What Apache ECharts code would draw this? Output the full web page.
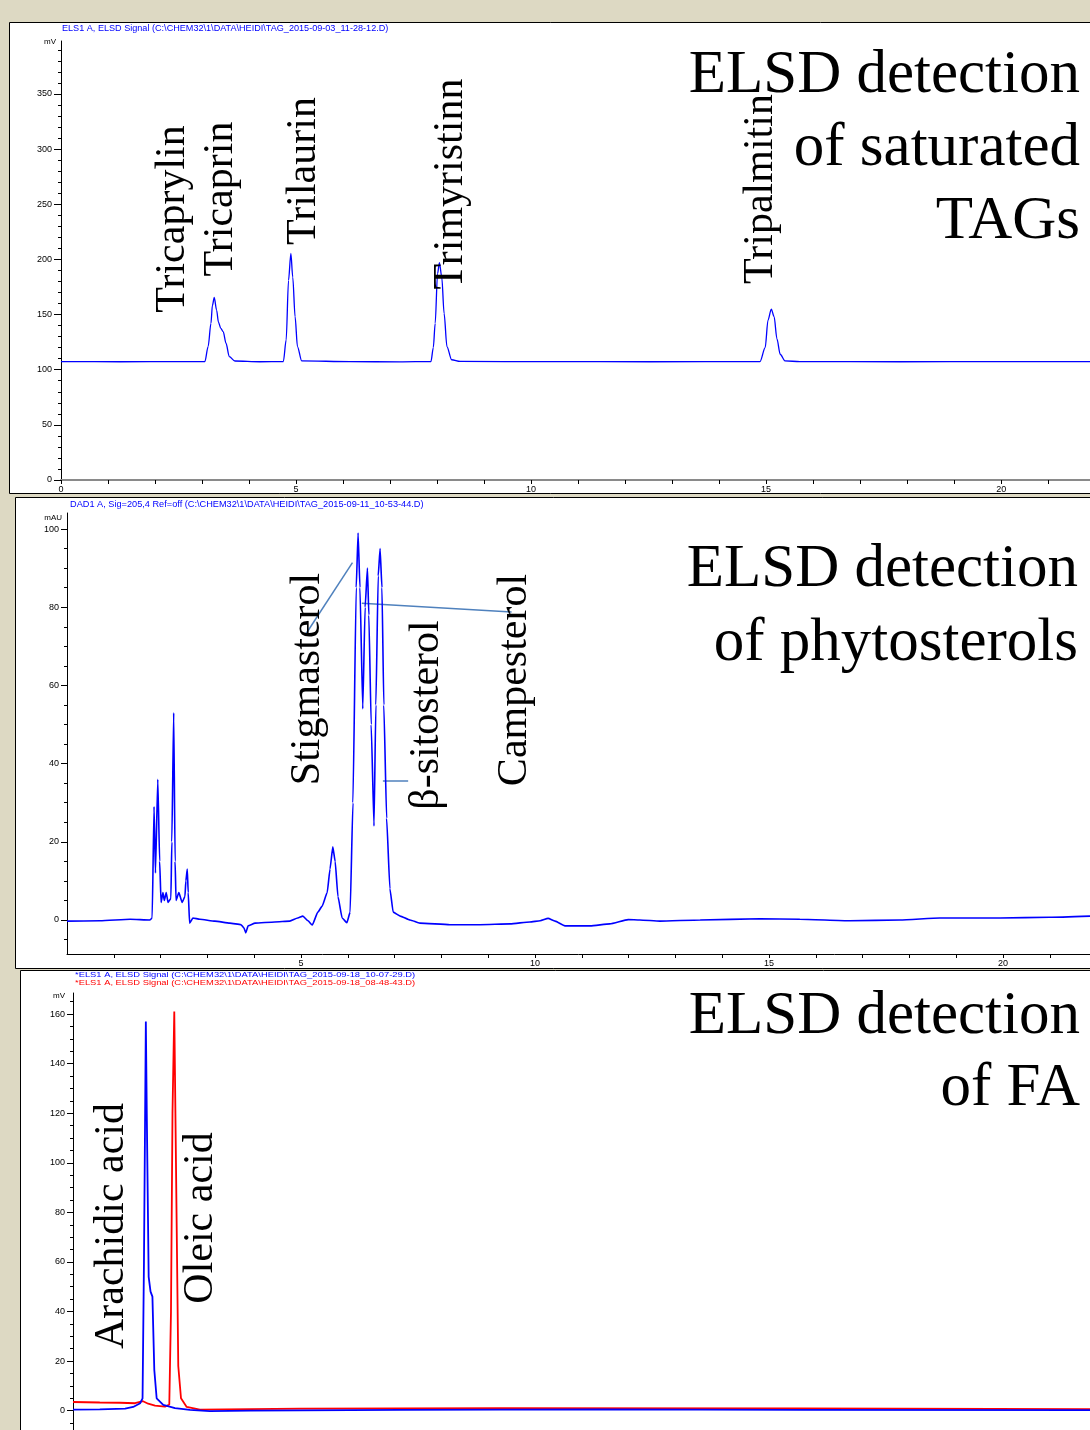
<!DOCTYPE html>
<html><head><meta charset="utf-8">
<script src="https://cdn.jsdelivr.net/npm/echarts@6/dist/echarts.min.js"></script>
<style>html,body{margin:0;padding:0;background:#ddd9c3;} #c{width:1090px;height:1430px;}</style>
</head><body><div id="c"></div>
<script>
// ---------- Panel 1: saturated TAGs (ELSD, mV) ----------
const tagTime = [0, 1.26, 2.53, 3.06, 3.13, 3.19, 3.22, 3.26, 3.31, 3.35, 3.40, 3.45, 3.51, 3.58, 3.70, 4.23, 4.73, 4.79, 4.84, 4.89, 4.93, 4.98, 5.03, 5.12, 6.15, 7.21, 7.87, 7.92, 7.96, 8.01, 8.05, 8.10, 8.15, 8.21, 8.31, 8.49, 10.40, 12.53, 14.87, 14.98, 15.04, 15.11, 15.17, 15.23, 15.30, 15.40, 15.72, 17.85, 19.98, 21.89];
const tagSignal = [107.3, 107.2, 107.4, 107.3, 121, 142, 158, 165.6, 154, 143, 137.5, 134.5, 124, 111.8, 107.9, 107.2, 107.4, 127, 181, 205.5, 184, 148, 121, 108, 107.3, 107.1, 107.4, 120, 142, 187, 197, 184, 151, 121, 109, 107.5, 107.3, 107.2, 107.3, 120, 145, 155, 148, 128, 114, 108, 107.3, 107.2, 107.3, 107.3];
const tagPeakNames = ['Tricaprylin', 'Tricaprin', 'Trilaurin', 'Trimyristinn', 'Tripalmitin'];
const tagYLabels = [0, 50, 100, 150, 200, 250, 300, 350];
const tagXLabels = [0, 5, 10, 15, 20];

// ---------- Panel 2: phytosterols (DAD, mAU) ----------
const sterolTime = [0, 0.71, 1.35, 1.77, 1.82, 1.86, 1.89, 1.94, 1.98, 2.01, 2.05, 2.08, 2.12, 2.16, 2.22, 2.24, 2.28, 2.31, 2.33, 2.39, 2.46, 2.52, 2.54, 2.57, 2.59, 2.62, 2.69, 2.84, 3.16, 3.48, 3.72, 3.78, 3.82, 3.87, 4.02, 4.44, 4.76, 4.93, 5.04, 5.15, 5.24, 5.36, 5.45, 5.56, 5.62, 5.68, 5.73, 5.79, 5.88, 5.98, 6.05, 6.11, 6.18, 6.22, 6.26, 6.32, 6.37, 6.42, 6.45, 6.50, 6.56, 6.60, 6.65, 6.69, 6.73, 6.77, 6.83, 6.90, 6.97, 7.12, 7.33, 7.54, 8.18, 8.82, 9.47, 9.89, 10.11, 10.28, 10.43, 10.64, 11.18, 11.60, 11.99, 12.24, 12.67, 13.53, 14.81, 15.66, 16.73, 17.80, 18.65, 19.94, 21.0, 21.86];
const sterolSignal = [-0.3, -0.2, 0.2, 0, 0.5, 29, 12, 36, 15, 4.5, 7, 5, 7, 4.5, 5.5, 20, 53, 15, 5, 7, 4.5, 6, 10, 13, 7, -0.8, 0.5, 0.2, -0.3, -0.8, -1.2, -2, -3.3, -1.5, -0.8, -0.5, -0.3, 0.5, 1, -0.2, -1.3, 2, 3.5, 7, 13, 18.7, 15, 6, 0.5, -0.7, 2, 30, 85, 99, 85, 54, 80, 90, 78, 50, 24, 55, 88, 95, 85, 55, 26, 8, 2, 1, 0, -0.8, -1.2, -1.2, -1, -0.5, -0.2, 0.4, -0.3, -1.5, -1.5, -1, 0.1, 0, -0.3, 0, 0.3, 0.2, -0.2, 0, 0.5, 0.5, 0.7, 1];
const sterolPeakNames = ['Stigmasterol', 'β-sitosterol', 'Campesterol'];
const sterolYLabels = [0, 20, 40, 60, 80, 100];
const sterolXLabels = [5, 10, 15, 20];
// leader lines: [time, value] -> [time, value]
const sterolLeaders = [
  [[6.10, 91.4], [5.09, 72.9]],
  [[6.30, 81.0], [9.50, 78.8]],
  [[6.75, 35.6], [7.29, 35.6]]
];

// ---------- Panel 3: fatty acids (ELSD, mV) ----------
const faBlueTime = [0, 0.57, 1.11, 1.28, 1.43, 1.48, 1.51, 1.55, 1.57, 1.61, 1.65, 1.69, 1.73, 1.78, 1.92, 2.17, 2.49, 2.91, 3.77, 6.96, 11.21, 15.47, 21.64];
const faBlueSignal = [0.4, 0.5, 0.8, 1.5, 3, 5, 60, 157, 120, 54, 48, 46, 16.4, 5, 2.3, 1, 0.3, -0.2, 0, 0.3, 0.5, 0.3, 0.2];
const faRedTime = [0, 0.57, 1.0, 1.32, 1.49, 1.6, 1.745, 1.957, 2.049, 2.085, 2.117, 2.155, 2.191, 2.24, 2.298, 2.419, 2.70, 4.83, 9.09, 15.47, 21.64];
const faRedSignal = [3.5, 3.3, 3.2, 3.0, 3.8, 2.8, 2, 1.6, 2.5, 40, 120, 161, 100, 18, 5, 1.5, 0.4, 0.8, 1, 0.9, 0.6];
const faPeakNames = ['Arachidic acid', 'Oleic acid'];
const faYLabels = [0, 20, 40, 60, 80, 100, 120, 140, 160];

const headers = {
  p1: 'ELS1 A, ELSD Signal (C:\\CHEM32\\1\\DATA\\HEIDI\\TAG_2015-09-03_11-28-12.D)',
  p2: 'DAD1 A, Sig=205,4 Ref=off (C:\\CHEM32\\1\\DATA\\HEIDI\\TAG_2015-09-11_10-53-44.D)',
  p3a: '*ELS1 A, ELSD Signal (C:\\CHEM32\\1\\DATA\\HEIDI\\TAG_2015-09-18_10-07-29.D)',
  p3b: '*ELS1 A, ELSD Signal (C:\\CHEM32\\1\\DATA\\HEIDI\\TAG_2015-09-18_08-48-43.D)'
};

// ---------- helpers ----------
function zip(a, b) { return a.map((v, i) => [v, b[i]]); }
function steps(from, to, step) { const r = []; for (let v = from; v <= to + 1e-9; v += step) r.push(+v.toFixed(4)); return r; }

const SERIF = '"Liberation Serif", "Times New Roman", serif';
const SANS = '"Liberation Sans", Arial, sans-serif';
const axisFont = { fontSize: 9, fontFamily: SANS, color: '#000' };

function xAxisDef(grid, max, labels, ticks, show, lineColor, lineWidth) {
  return {
    type: 'value', gridIndex: grid, min: 0, max: max, show: show,
    axisLine: { show: true, onZero: false, lineStyle: { color: lineColor, width: lineWidth } },
    axisTick: { show: true, length: 4, customValues: ticks, lineStyle: { color: '#000' } },
    axisLabel: Object.assign({ show: true, margin: 5, customValues: labels, formatter: v => String(v) }, axisFont),
    splitLine: { show: false }
  };
}
function yMajor(grid, min, max, labels, tickLen, margin) {
  return {
    type: 'value', gridIndex: grid, min: min, max: max, position: 'left',
    axisLine: { show: true, onZero: false, lineStyle: { color: '#000', width: 1 } },
    axisTick: { show: true, length: tickLen, customValues: labels, lineStyle: { color: '#000' } },
    axisLabel: Object.assign({ show: true, margin: margin, customValues: labels, formatter: v => String(v) }, axisFont),
    splitLine: { show: false }
  };
}
function yMinor(grid, min, max, ticks) {
  return {
    type: 'value', gridIndex: grid, min: min, max: max, position: 'left',
    axisLine: { show: false },
    axisTick: { show: true, length: 3, customValues: ticks, lineStyle: { color: '#000' } },
    axisLabel: { show: false },
    splitLine: { show: false }
  };
}

const chart = echarts.init(document.getElementById('c'), null, { renderer: 'canvas', width: 1090, height: 1430 });

const graphics = [];
// panel frames
[[9, 22, 1100, 471], [15, 497, 1100, 471], [20, 970, 1100, 480]].forEach(r => {
  graphics.push({ type: 'rect', z: -100, shape: { x: r[0] + 0.5, y: r[1] + 0.5, width: r[2], height: r[3] },
    style: { fill: '#fff', stroke: '#000', lineWidth: 1 } });
});
function txt(text, x, y, font, fill, align, rot, sx) {
  graphics.push({ type: 'text', z: 100, x: x, y: y, rotation: rot || 0, scaleX: sx || 1,
    style: { text: text, font: font, fill: fill, align: align, verticalAlign: 'middle' } });
}
// headers
txt(headers.p1, 62, 28, '9.1px ' + SANS, '#0000ff', 'left');
txt(headers.p2, 70, 504, '9.2px ' + SANS, '#0000ff', 'left');
txt(headers.p3a, 75, 975, '8px ' + SANS, '#0000ff', 'left', 0, 1.17);
txt(headers.p3b, 75, 983, '8px ' + SANS, '#ff0000', 'left', 0, 1.17);
// units
txt('mV', 56, 42, '8px ' + SANS, '#000', 'right');
txt('mAU', 62, 518, '8px ' + SANS, '#000', 'right');
txt('mV', 65, 996, '8px ' + SANS, '#000', 'right');
// big titles
const TF = '61px ' + SERIF;
txt('ELSD detection', 1080, 76, TF, '#000', 'right');
txt('of saturated', 1080, 149, TF, '#000', 'right');
txt('TAGs', 1080, 222, TF, '#000', 'right');
txt('ELSD detection', 1078, 570, TF, '#000', 'right');
txt('of phytosterols', 1078, 644, TF, '#000', 'right');
txt('ELSD detection', 1080, 1017, TF, '#000', 'right');
txt('of FA', 1080, 1089, TF, '#000', 'right');
// rotated peak labels
const LF = '42px ' + SERIF;
const R = Math.PI / 2;
[[173, 219], [221, 199], [304, 171], [451, 184], [761, 189]].forEach((p, i) => txt(tagPeakNames[i], p[0], p[1], LF, '#000', 'center', R));
[[308, 679], [427, 715], [515, 680]].forEach((p, i) => txt(sterolPeakNames[i], p[0], p[1], LF, '#000', 'center', R));
[[112, 1226], [201, 1218]].forEach((p, i) => txt(faPeakNames[i], p[0], p[1], LF, '#000', 'center', R));

const option = {
  animation: false,
  backgroundColor: '#ddd9c3',
  grid: [
    { left: 61, top: 41, width: 1029, height: 439 },
    { left: 67, top: 513, width: 1023, height: 441 },
    { left: 73, top: 993, width: 1017, height: 437 }
  ],
  xAxis: [
    xAxisDef(0, 21.89, tagXLabels, steps(0, 21, 1), true, '#8a8a8a', 2),
    xAxisDef(1, 21.86, sterolXLabels, steps(1, 21, 1), true, '#000', 1),
    xAxisDef(2, 21.64, [], [], false, '#000', 1)
  ],
  yAxis: [
    yMajor(0, 0, 398, tagYLabels, 7, 9),
    yMinor(0, 0, 398, steps(10, 390, 10)),
    yMajor(1, -8.7, 104.1, sterolYLabels, 6, 8),
    yMinor(1, -8.7, 104.1, steps(-5, 100, 5)),
    yMajor(2, -7.8, 168.5, faYLabels, 6, 8),
    yMinor(2, -7.8, 168.5, steps(-5, 165, 5))
  ],
  series: [
    { type: 'line', xAxisIndex: 0, yAxisIndex: 0, data: zip(tagTime, tagSignal), showSymbol: false,
      smooth: 0.3, smoothMonotone: 'x',
      lineStyle: { color: '#0000ff', width: 1.3 }, z: 5 },
    { type: 'line', xAxisIndex: 1, yAxisIndex: 2, data: zip(sterolTime, sterolSignal), showSymbol: false,
      smooth: 0.15, smoothMonotone: 'x',
      lineStyle: { color: '#0000ff', width: 1.6 }, z: 5,
      markLine: { silent: true, symbol: ['none', 'none'], label: { show: false },
        lineStyle: { color: '#4f81bd', width: 1.5, type: 'solid' },
        data: sterolLeaders.map(l => [{ coord: l[0] }, { coord: l[1] }]) } },
    { type: 'line', xAxisIndex: 2, yAxisIndex: 4, data: zip(faRedTime, faRedSignal), showSymbol: false,
      lineStyle: { color: '#ff0000', width: 1.8 }, z: 5 },
    { type: 'line', xAxisIndex: 2, yAxisIndex: 4, data: zip(faBlueTime, faBlueSignal), showSymbol: false,
      lineStyle: { color: '#0000ff', width: 1.8 }, z: 6 }
  ],
  graphic: { elements: graphics }
};
chart.setOption(option);
</script>
</body></html>
